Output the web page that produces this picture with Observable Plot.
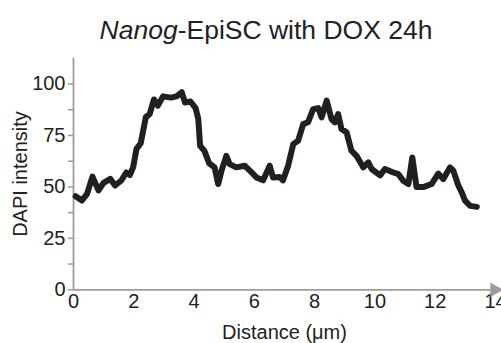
<!DOCTYPE html>
<html>
<head>
<meta charset="utf-8">
<script src="https://cdn.jsdelivr.net/npm/d3@7"></script>
<script src="https://cdn.jsdelivr.net/npm/@observablehq/plot@0.6"></script>
<style>
  html, body { margin: 0; padding: 0; background: #fff; overflow: hidden; width: 501px; height: 343px; }
  #title { height: 48px; width: 501px; position: relative; font-family: "Liberation Sans", Arial, sans-serif; color: #222; }
  #title span { position: absolute; left: 266px; top: 18px; font-size: 25px; line-height: 1; white-space: nowrap; transform: translateX(-50%) scaleX(1.06); }
  svg { overflow: visible; }
</style>
</head>
<body>
<div id="title"><span><i>Nanog</i>-EpiSC with DOX 24h</span></div>
<div id="chart"></div>
<script>
const distance = [0.07, 0.28, 0.45, 0.63, 0.83, 1.0, 1.22, 1.38, 1.58, 1.75, 1.87, 1.98, 2.09, 2.23, 2.4, 2.53, 2.67, 2.8, 2.97, 3.23, 3.42, 3.59, 3.7, 3.88, 4.05, 4.14, 4.2, 4.34, 4.5, 4.68, 4.8, 4.91, 5.07, 5.18, 5.4, 5.68, 5.85, 6.07, 6.29, 6.51, 6.62, 6.84, 6.95, 7.12, 7.29, 7.45, 7.62, 7.78, 7.95, 8.12, 8.23, 8.4, 8.56, 8.67, 8.78, 8.89, 9.06, 9.22, 9.39, 9.61, 9.78, 9.89, 10.17, 10.33, 10.61, 10.78, 10.94, 11.11, 11.24, 11.38, 11.6, 11.88, 12.1, 12.27, 12.49, 12.6, 12.77, 12.88, 12.99, 13.16, 13.38];
const intensity = [45.5, 43.4, 46.6, 55, 48.3, 52, 53.9, 50.7, 53, 57, 55.8, 59.6, 68.5, 71.2, 83.9, 85.5, 92.5, 89.5, 94, 93.4, 94, 96, 91, 91.5, 88.3, 83, 70, 67.6, 61.5, 59.5, 51.4, 57.9, 65.1, 61.1, 59.5, 60.3, 57.9, 54.6, 53.2, 60.3, 54.6, 54.8, 53.2, 60.3, 70.8, 72.4, 80.5, 81.4, 87.8, 88.3, 83.8, 91.9, 83, 81.4, 85.4, 78.1, 76.5, 67.6, 65.1, 59.5, 61.9, 58.7, 55.6, 58.7, 57, 56.2, 53, 51.4, 64.3, 49.9, 49.9, 51.4, 56.5, 53.8, 59.5, 57.9, 50.6, 47.3, 43.3, 40.8, 40.3];
const yTickLabels = [0, 25, 50, 75, 100];
const yMinorTicks = [12.5, 37.5, 62.5, 87.5];
const xTickLabels = [0, 2, 4, 6, 8, 10, 12, 14];

const data = distance.map((d, i) => ({distance: d, intensity: intensity[i]}));
const gray = "#9d9d9d";
const ink = "#231f20";
const font = "'Liberation Sans', Arial, sans-serif";

const chart = Plot.plot({
  width: 501,
  height: 295,
  marginLeft: 73,
  marginRight: 6,
  marginTop: 9.8,
  marginBottom: 53.7,
  style: {fontFamily: font, fontSize: "20px", color: "#222", background: "white", overflow: "visible"},
  x: {domain: [0, 14]},
  y: {domain: [0, 112.5]},
  marks: [
    Plot.axisY({ticks: yTickLabels, tickSize: 5, tickPadding: 3, stroke: gray, strokeWidth: 1.5, label: "DAPI intensity", labelAnchor: "center", labelArrow: "none", labelOffset: 61, fill: "#222"}),
    Plot.axisY({ticks: yMinorTicks, tickSize: 5, tickFormat: () => "", stroke: gray, strokeWidth: 1.5, label: null}),
    Plot.axisX({ticks: xTickLabels, tickSize: 0, tickPadding: 4, label: "Distance (μm)", labelAnchor: "center", labelArrow: "none", labelOffset: 49, fill: "#222"}),
    Plot.ruleX([0], {y1: 0, y2: 112.5, stroke: gray, strokeWidth: 1.8}),
    Plot.ruleY([0], {x1: 0, x2: 14, stroke: gray, strokeWidth: 1.8}),
    Plot.dot([14], {x: d => d, y: 0, symbol: "triangle", rotate: 90, r: 5.5, fill: gray, stroke: "none", dx: -1}),
    Plot.line(data, {x: "distance", y: "intensity", stroke: ink, strokeWidth: 6, strokeLinejoin: "round", strokeLinecap: "round"})
  ]
});
document.getElementById("chart").appendChild(chart);
</script>
</body>
</html>
